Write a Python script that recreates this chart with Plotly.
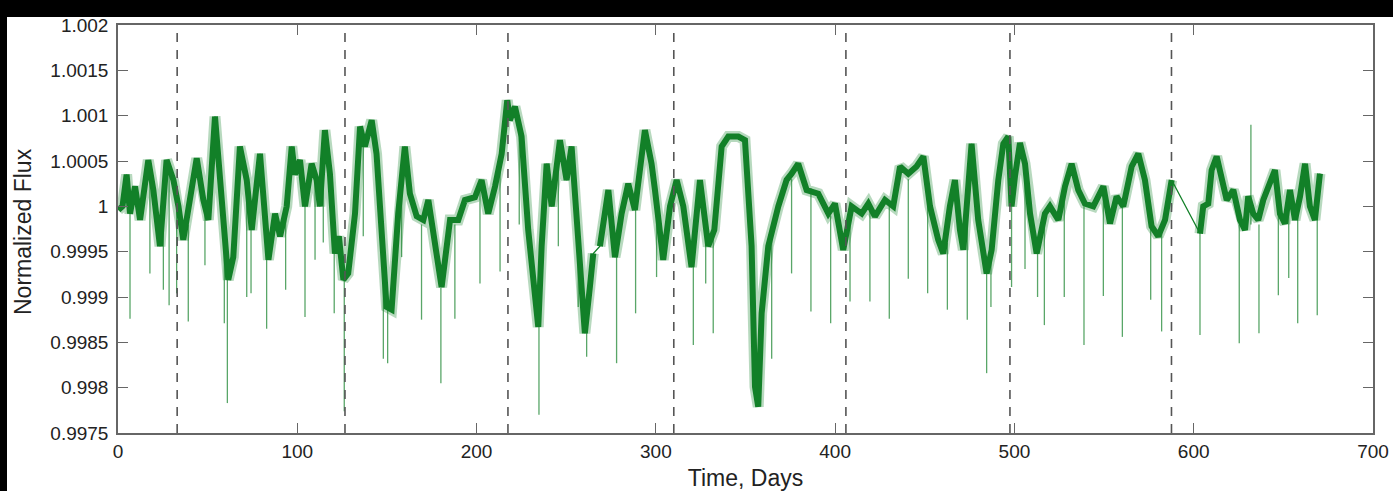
import plotly.graph_objects as go

# Light curve centreline (time in days, normalized flux)
seg1_time = [0.2, 2.5, 4.8, 6.7, 9.5, 12.3, 16.9, 19.7, 23.4, 27.1, 30.9, 33.7, 36.4, 43.9, 47.6,
             50.4, 54.1, 56.9, 61.5, 64.3, 68.0, 71.8, 74.6, 79.2, 83.9, 87.6, 90.4, 94.1, 96.9,
             98.7, 101.5, 104.3, 108.0, 110.8, 112.6, 115.4, 118.2, 121.0, 123.2, 125.7, 128.4,
             132.2, 135.0, 137.7, 141.5, 144.2, 147.0, 149.8, 152.6, 156.3, 160.0, 162.8, 166.6,
             170.3, 173.1, 176.8, 180.5, 185.2, 189.8, 193.5, 199.1, 202.8, 206.5, 210.3, 214.0,
             217.1, 218.6, 221.4, 225.1, 228.8, 232.6, 234.4, 236.3, 239.1, 241.9, 246.5, 250.2,
             253.0, 256.7, 260.4, 263.2, 265.1]
seg1_flux = [0.99996, 1.0, 1.00035, 0.99992, 1.00022, 0.99985, 1.00051, 1.00018, 0.99956, 1.00051,
             1.00029, 1.0, 0.99963, 1.00053, 1.00007, 0.99985, 1.00099, 1.00036, 0.99919, 0.99944,
             1.00066, 1.00029, 0.99974, 1.00058, 0.99941, 0.99992, 0.99967, 1.0, 1.00066,
             1.00035, 1.00051, 1.0, 1.00047, 1.00029, 1.0, 1.00084, 1.00036, 0.99948, 0.99967,
             0.99919, 0.99926, 0.99992, 1.00088, 1.00066, 1.00095, 1.00058, 0.9997, 0.99889,
             0.99886, 0.99992, 1.00066, 1.00014, 0.99989, 0.99985, 1.00007, 0.99956, 0.99911,
             0.99985, 0.99985, 1.00007, 1.0001, 1.00029, 0.99992, 1.00022, 1.00058, 1.00117,
             1.00095, 1.0011, 1.00077, 0.99974, 0.99889, 0.99867, 0.99956, 1.00047, 1.0,
             1.00073, 1.00029, 1.00066, 0.99963, 0.9986, 0.99911, 0.99948]

seg2_time = [268.8, 273.5, 277.2, 280.9, 284.6, 288.3, 293.9, 297.6, 299.5, 302.3, 304.1, 307.9,
             311.6, 315.3, 319.9, 324.6, 329.2, 332.6, 336.7, 340.4, 346.0, 349.7, 353.4, 355.3,
             357.1, 359.0, 362.7, 368.3, 372.9, 375.7, 379.4, 384.1, 390.6, 396.2, 399.9, 404.5,
             409.2, 414.8, 418.5, 422.2, 427.8, 432.4, 436.2, 440.8, 445.4, 449.2, 452.9, 457.5,
             460.3, 464.0, 466.8, 469.6, 471.5, 476.1, 479.8, 484.5, 487.3, 491.0, 493.8, 496.6,
             498.4, 500.3, 503.1, 505.9, 508.7, 512.4, 517.0, 519.8, 524.5, 528.2, 531.9, 535.6,
             539.3, 544.0, 549.6, 553.3, 557.0, 560.7, 565.4, 569.1, 572.8, 576.5, 580.2, 584.0,
             587.7]
seg2_flux = [0.99956, 1.00018, 0.99944, 0.99992, 1.00025, 0.99996, 1.00084, 1.00047, 1.00018,
             0.99975, 0.99941, 1.0, 1.00029, 1.0, 0.99933, 1.00029, 0.99956, 0.99974, 1.00066,
             1.00077, 1.00077, 1.00073, 0.99956, 0.99801, 0.99779, 0.99882, 0.99956, 1.0,
             1.00029, 1.00036, 1.00047, 1.00018, 1.00014, 0.99992, 1.00003, 0.99952, 1.0,
             0.99992, 1.00003, 0.99989, 1.00007, 1.0, 1.00044, 1.00036, 1.00044, 1.00055, 1.0,
             0.99963, 0.99948, 1.0, 1.00029, 0.99974, 0.99952, 1.00069, 0.99985, 0.99926,
             0.99952, 1.00029, 1.00069, 1.00077, 1.0, 1.00033, 1.0007, 1.00047, 0.99992,
             0.99948, 0.99992, 1.0, 0.99985, 1.00022, 1.00047, 1.00018, 1.00003, 1.0, 1.00022,
             0.99981, 1.00011, 1.0, 1.00044, 1.00058, 1.00029, 0.99978, 0.99967, 0.99985,
             1.00029]

seg3_time = [603.5, 605.3, 608.1, 610.0, 612.8, 615.6, 618.4, 622.1, 625.8, 628.6, 630.4, 633.2,
             636.0, 638.8, 642.5, 645.3, 648.1, 650.9, 653.7, 656.5, 659.3, 662.1, 664.8, 667.6,
             670.4]
seg3_flux = [0.9997, 1.0, 1.00003, 1.0004, 1.00055, 1.00029, 1.00007, 1.00018, 0.99985, 0.99974,
             1.00011, 0.99992, 0.99985, 1.00007, 1.00025, 1.0004, 0.99992, 0.99981, 1.00018,
             0.99985, 1.00011, 1.00047, 1.0, 0.99985, 1.00036]

# Short outlier excursions (time, band level, extreme flux)
spike_time = [6.7, 17.8, 25.3, 28.5, 32.7, 39.2, 48.5, 59.3, 61.0, 71.8, 74.2, 82.9, 93.5, 104.3,
              109.9, 114.5, 120.6, 126.2, 136.8, 148.0, 150.4, 158.2, 169.3, 180.1, 187.9, 201.9,
              213.1, 223.8, 234.8, 245.6, 256.7, 261.4, 278.1, 288.7, 300.4, 320.9, 327.8, 332.0,
              364.6, 375.7, 386.5, 397.5, 408.3, 419.4, 430.2, 440.8, 451.6, 462.6, 473.7, 484.5,
              486.9, 498.4, 505.9, 512.9, 516.7, 527.8, 538.8, 549.6, 560.2, 576.0, 582.1, 603.5,
              625.4, 631.9, 636.4, 647.2, 653.0, 658.0, 668.9]
spike_top = [0.99992, 1.0004, 0.9999, 1.0004, 1.0001, 0.9998, 1.0, 0.9996, 0.9993, 1.0002, 0.9998,
             0.9995, 0.9999, 1.0, 1.0003, 1.0007, 0.9995, 0.9992, 1.0008, 0.9993, 0.9989, 1.0003,
             0.9998, 0.9991, 0.9998, 1.0002, 1.0005, 1.0009, 0.9987, 1.0007, 0.9996, 0.9987,
             0.9995, 1.0, 1.0001, 0.9994, 0.9998, 0.9997, 0.9997, 1.0003, 1.0002, 0.9999, 0.9999,
             1.0, 1.0, 1.0003, 1.0002, 0.9996, 0.9998, 0.9993, 0.9995, 1.0, 1.0004, 0.9995,
             0.9999, 1.0002, 1.0, 1.0002, 1.0, 0.9998, 0.9997, 0.9997, 0.9998, 1.0009, 0.9998,
             1.0, 1.0001, 1.0001, 0.9999]
spike_low = [0.99876, 0.99926, 0.99908, 0.99891, 0.99904, 0.99873, 0.99935, 0.99871, 0.99783,
             0.999, 0.99904, 0.99865, 0.99908, 0.99878, 0.99941, 0.9996, 0.99882, 0.99774,
             0.99967, 0.99832, 0.99827, 0.99944, 0.99875, 0.99805, 0.99876, 0.99915, 0.99928,
             0.9998, 0.9977, 0.99956, 0.99889, 0.99834, 0.99827, 0.99882, 0.99922, 0.99847,
             0.99915, 0.9986, 0.99832, 0.99926, 0.99884, 0.99871, 0.99895, 0.99895, 0.99876,
             0.9992, 0.99904, 0.99886, 0.99875, 0.99816, 0.99889, 0.99911, 0.99931, 0.999,
             0.99869, 0.999, 0.99847, 0.99901, 0.99856, 0.99897, 0.99862, 0.99858, 0.99849,
             0.9998, 0.9986, 0.99902, 0.99921, 0.99871, 0.9988]

# Quarter boundaries (dashed lines)
quarter_edges = [33.0, 126.6, 217.5, 310.0, 406.0, 497.5, 587.6]

x_ticks = [0, 100, 200, 300, 400, 500, 600, 700]
y_ticks = [0.9975, 0.998, 0.9985, 0.999, 0.9995, 1.0, 1.0005, 1.001, 1.0015, 1.002]
y_tick_text = ["0.9975", "0.998", "0.9985", "0.999", "0.9995", "1", "1.0005", "1.001", "1.0015", "1.002"]

GREEN = "rgb(18,128,40)"
FONT = "Liberation Sans, Arial, sans-serif"

band_x = seg1_time + [None] + seg2_time + [None] + seg3_time
band_y = seg1_flux + [None] + seg2_flux + [None] + seg3_flux
thin_x = seg1_time + seg2_time + seg3_time
thin_y = seg1_flux + seg2_flux + seg3_flux

sx, sy = [], []
for t, a, b in zip(spike_time, spike_top, spike_low):
    sx += [t, t, None]
    sy += [a, b, None]

fig = go.Figure()
fig.add_trace(go.Scatter(x=band_x, y=band_y, mode="lines",
                         line=dict(color="rgba(18,128,40,0.3)", width=11), hoverinfo="skip"))
fig.add_trace(go.Scatter(x=thin_x, y=thin_y, mode="lines",
                         line=dict(color=GREEN, width=1.3)))
fig.add_trace(go.Scatter(x=band_x, y=band_y, mode="lines",
                         line=dict(color=GREEN, width=6)))
fig.add_trace(go.Scatter(x=sx, y=sy, mode="lines",
                         line=dict(color="rgba(18,128,40,0.7)", width=1.3)))

shapes = []
for q in quarter_edges:
    shapes.append(dict(type="line", xref="x", yref="paper", x0=q, x1=q, y0=0, y1=1,
                       line=dict(color="#555555", width=1.6, dash="9px,8px"), layer="above"))
# white slide area inside the black frame of the photographed slide
shapes.append(dict(type="rect", xref="paper", yref="paper", x0=-111 / 1255, x1=1 + 21 / 1255,
                   y0=-59 / 408, y1=1 + 8 / 408, fillcolor="white", line=dict(width=0),
                   layer="below"))

axis_common = dict(showgrid=False, zeroline=False, showline=True, linecolor="#666666",
                   linewidth=1.5, mirror="ticks", ticks="inside", ticklen=10, tickwidth=1.3,
                   tickcolor="#666666", automargin=False,
                   tickfont=dict(family=FONT, size=19, color="#222222"))

fig.update_layout(
    width=1393, height=491,
    margin=dict(l=118, r=20, t=25, b=58, autoexpand=False),
    paper_bgcolor="black", plot_bgcolor="white",
    showlegend=False,
    shapes=shapes,
    xaxis=dict(range=[0, 700], tickvals=x_ticks,
               title=dict(text="Time, Days", font=dict(family=FONT, size=23, color="#222222"),
                          standoff=10),
               **axis_common),
    yaxis=dict(range=[0.9975, 1.002], tickvals=y_ticks, ticktext=y_tick_text,
               ticklabelstandoff=4, **axis_common),
    annotations=[dict(text="Normalized Flux", xref="paper", yref="paper",
                      x=-(118 - 23) / 1255, y=(433 - 232) / 408, xanchor="center",
                      yanchor="middle", textangle=-90, showarrow=False,
                      font=dict(family=FONT, size=23, color="#222222"))],
)

fig.write_html("out.html", config={"displayModeBar": False},
               post_script="document.body.style.margin='0';document.body.style.overflow='hidden';")
